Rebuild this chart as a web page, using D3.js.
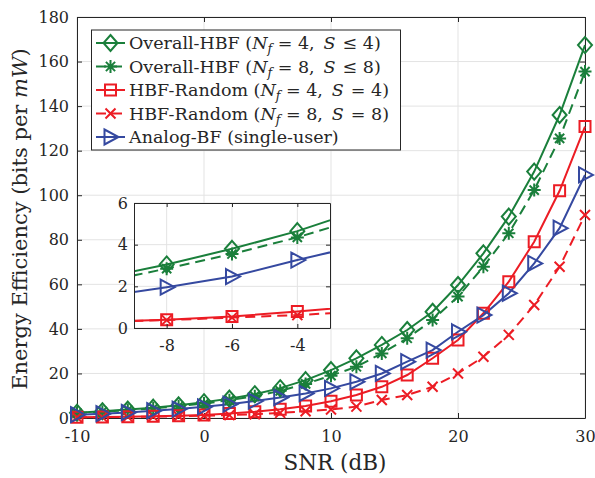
<!DOCTYPE html>
<html>
<head>
<meta charset="utf-8">
<script src="https://cdn.jsdelivr.net/npm/d3@7"></script>
<style>
  body { margin: 0; background: #fff; }
</style>
</head>
<body>
<div id="chart"></div>
<script>
const snr = [-10, -8, -6, -4, -2, 0, 2, 4, 6, 8, 10, 12, 14, 16, 18, 20, 22, 24, 26, 28, 30];

const overallN4 = [2.4, 3.05, 3.8, 4.65, 5.7, 7.1, 8.7, 10.7, 13.4, 17.0, 21.5, 26.8, 32.8, 39.5, 47.7, 59.7, 73.9, 90.4, 110.6, 136.0, 167.4];
const overallN8 = [2.2, 2.85, 3.55, 4.35, 5.3, 6.5, 8.0, 9.8, 12.2, 15.3, 19.0, 23.0, 29.0, 35.8, 44.0, 54.5, 67.9, 82.9, 102.3, 125.5, 155.5];
const randomN4 = [0.3, 0.4, 0.55, 0.79, 1.05, 1.4, 2.0, 2.8, 3.9, 5.4, 7.5, 10.3, 14.0, 19.3, 26.8, 35.0, 47.0, 61.2, 79.1, 102.0, 130.8];
const randomN8 = [0.3, 0.38, 0.5, 0.62, 0.8, 1.0, 1.3, 1.7, 2.3, 3.0, 3.8, 5.1, 8.1, 10.3, 14.0, 20.0, 27.5, 37.3, 50.7, 67.9, 91.1];
const analog = [1.5, 1.96, 2.47, 3.26, 4.0, 5.0, 6.2, 7.6, 9.2, 11.0, 13.3, 16.3, 20.0, 25.3, 30.5, 38.7, 46.2, 56.0, 69.4, 85.2, 109.1];

const xTicks = [-10, 0, 10, 20, 30];
const yTicks = [0, 20, 40, 60, 80, 100, 120, 140, 160, 180];
const insetXTicks = [-8, -6, -4];
const insetYTicks = [0, 2, 4, 6];

const green = "#1a7f3b", red = "#ec1c24", blue = "#3549a0";
const FONT = "'DejaVu Serif', 'Liberation Serif', serif";

const series = [
  { name: "Overall-HBF", nf: 4, rel: "\u2264", s: 4, values: overallN4, color: green, dash: null, marker: "diamond" },
  { name: "Overall-HBF", nf: 8, rel: "\u2264", s: 8, values: overallN8, color: green, dash: "10,6", marker: "asterisk" },
  { name: "HBF-Random", nf: 4, rel: "=", s: 4, values: randomN4, color: red, dash: null, marker: "square" },
  { name: "HBF-Random", nf: 8, rel: "=", s: 8, values: randomN8, color: red, dash: "10,6", marker: "cross" },
  { name: "Analog-BF (single-user)", values: analog, color: blue, dash: null, marker: "triangle" }
];

const markerPath = {
  diamond: "M0,-8L7,0L0,8L-7,0Z",
  square: "M-5.5,-5.5H5.5V5.5H-5.5Z",
  triangle: "M-6,-7.5L8,0L-6,7.5Z",
  cross: "M-5,-5L5,5M-5,5L5,-5",
  asterisk: "M0,-6.5V6.5M-6.5,0H6.5M-4.6,-4.6L4.6,4.6M-4.6,4.6L4.6,-4.6"
};

const width = 595, height = 478;
const svg = d3.select("#chart").append("svg")
  .attr("width", width).attr("height", height);

const x = d3.scaleLinear().domain([-10, 30]).range([77, 585]);
const y = d3.scaleLinear().domain([0, 180]).range([418, 17]);
const fmt = d => String(d);

// grid
const grid = svg.append("g");
grid.selectAll("line.gx").data(xTicks).join("line")
  .attr("x1", d => x(d)).attr("x2", d => x(d))
  .attr("y1", y(0)).attr("y2", y(180))
  .attr("stroke", "#e3e3e3").attr("stroke-width", 1);
grid.selectAll("line.gy").data(yTicks).join("line")
  .attr("y1", d => y(d)).attr("y2", d => y(d))
  .attr("x1", x(-10)).attr("x2", x(30))
  .attr("stroke", "#e3e3e3").attr("stroke-width", 1);

// axes
svg.append("g").attr("transform", `translate(0,${y(0)})`)
  .call(d3.axisBottom(x).tickValues(xTicks).tickFormat(fmt).tickSizeInner(-5).tickSizeOuter(0).tickPadding(13));
svg.append("g").attr("transform", `translate(${x(-10)},0)`)
  .call(d3.axisLeft(y).tickValues(yTicks).tickFormat(fmt).tickSizeInner(-5).tickSizeOuter(0).tickPadding(8));
svg.append("g").attr("transform", `translate(0,${y(180)})`)
  .call(d3.axisTop(x).tickValues(xTicks).tickSizeInner(-5).tickSizeOuter(0).tickFormat(""));
svg.append("g").attr("transform", `translate(${x(30)},0)`)
  .call(d3.axisRight(y).tickValues(yTicks).tickSizeInner(-5).tickSizeOuter(0).tickFormat(""));
svg.selectAll(".domain").attr("stroke", "#262626");
svg.selectAll(".tick line").attr("stroke", "#262626");
svg.selectAll(".tick text").style("font-size", "16px");

svg.append("text").attr("x", (x(-10) + x(30)) / 2 + 4).attr("y", 470)
  .attr("text-anchor", "middle").style("font-size", "21.5px").text("SNR (dB)");
const yl = svg.append("text")
  .attr("transform", `translate(27,219) rotate(-90)`)
  .attr("text-anchor", "middle").style("font-size", "21px");
yl.append("tspan").text("Energy Efficiency (bits per ");
yl.append("tspan").style("font-style", "italic").text("mW");
yl.append("tspan").text(")");

// main series
function drawSeries(g, xs, ys, pts) {
  series.forEach(s => {
    const data = pts.map(i => [snr[i], s.values[i]]);
    g.append("path").datum(data)
      .attr("fill", "none").attr("stroke", s.color).attr("stroke-width", 2)
      .attr("stroke-dasharray", s.dash)
      .attr("d", d3.line().x(d => xs(d[0])).y(d => ys(d[1])));
  });
}
function drawMarkers(g, xs, ys, pts) {
  series.forEach(s => {
    const data = pts.map(i => [snr[i], s.values[i]]);
    g.selectAll(null).data(data).join("path")
      .attr("transform", d => `translate(${xs(d[0])},${ys(d[1])})`)
      .attr("d", markerPath[s.marker])
      .attr("fill", "none").attr("stroke", s.color).attr("stroke-width", 2);
  });
}
const allIdx = snr.map((_, i) => i);
const mainG = svg.append("g");
drawSeries(mainG, x, y, allIdx);
drawMarkers(mainG, x, y, allIdx);

// inset
const xi = d3.scaleLinear().domain([-9, -3]).range([134, 330]);
const yi = d3.scaleLinear().domain([0, 6]).range([328, 203]);
const inset = svg.append("g");
inset.append("rect").attr("x", 134).attr("y", 203).attr("width", 196).attr("height", 125)
  .attr("fill", "#fff");
svg.append("clipPath").attr("id", "insetClip").append("rect")
  .attr("x", 134).attr("y", 203).attr("width", 196).attr("height", 125);
inset.selectAll("line.ix").data(insetXTicks).join("line")
  .attr("x1", d => xi(d)).attr("x2", d => xi(d)).attr("y1", 203).attr("y2", 328)
  .attr("stroke", "#e3e3e3");
inset.selectAll("line.iy").data(insetYTicks).join("line")
  .attr("y1", d => yi(d)).attr("y2", d => yi(d)).attr("x1", 134).attr("x2", 330)
  .attr("stroke", "#e3e3e3");
const insetData = inset.append("g").attr("clip-path", "url(#insetClip)");
drawSeries(insetData, xi, yi, allIdx.filter(i => snr[i] >= -10 && snr[i] <= -2));
drawMarkers(inset, xi, yi, allIdx.filter(i => snr[i] >= -8 && snr[i] <= -4));
inset.append("g").attr("transform", "translate(0,328)")
  .call(d3.axisBottom(xi).tickValues(insetXTicks).tickFormat(fmt).tickSizeInner(-4).tickSizeOuter(0).tickPadding(12));
inset.append("g").attr("transform", "translate(134,0)")
  .call(d3.axisLeft(yi).tickValues(insetYTicks).tickFormat(fmt).tickSizeInner(-4).tickSizeOuter(0).tickPadding(6));
inset.append("g").attr("transform", "translate(0,203)")
  .call(d3.axisTop(xi).tickValues(insetXTicks).tickSizeInner(-4).tickSizeOuter(0).tickFormat(""));
inset.append("g").attr("transform", "translate(330,0)")
  .call(d3.axisRight(yi).tickValues(insetYTicks).tickSizeInner(-4).tickSizeOuter(0).tickFormat(""));
inset.selectAll(".domain").attr("stroke", "#262626");
inset.selectAll(".tick line").attr("stroke", "#262626");
inset.selectAll(".tick text").style("font-size", "16px");

// legend
const lg = svg.append("g");
lg.append("rect").attr("x", 91.5).attr("y", 30).attr("width", 309).attr("height", 120)
  .attr("fill", "#fff").attr("stroke", "#262626").attr("stroke-width", 1);
series.forEach((s, i) => {
  const cy = 43 + i * 23.5;
  lg.append("line").attr("x1", 96).attr("x2", 125).attr("y1", cy).attr("y2", cy)
    .attr("stroke", s.color).attr("stroke-width", 2).attr("stroke-dasharray", s.dash);
  lg.append("path").attr("transform", `translate(110.5,${cy})`).attr("d", markerPath[s.marker])
    .attr("fill", "none").attr("stroke", s.color).attr("stroke-width", 2);
  const t = lg.append("text").attr("x", 129).attr("y", cy + 6).style("font-size", "17.5px");
  if (s.nf === undefined) {
    t.text(s.name);
  } else {
    t.append("tspan").text(s.name + " (");
    t.append("tspan").style("font-style", "italic").text("N");
    t.append("tspan").attr("dy", 4).style("font-size", "12.5px").style("font-style", "italic").text("f");
    t.append("tspan").attr("dy", -4).text(" = " + s.nf + ",");
    t.append("tspan").attr("dx", 9).style("font-style", "italic").text("S");
    t.append("tspan").attr("dx", 7).text(s.rel + " " + s.s + ")");
  }
});

svg.selectAll("text")
  .style("font-family", FONT)
  .style("white-space", "pre")
  .attr("fill", "#262626");
</script>
</body>
</html>
